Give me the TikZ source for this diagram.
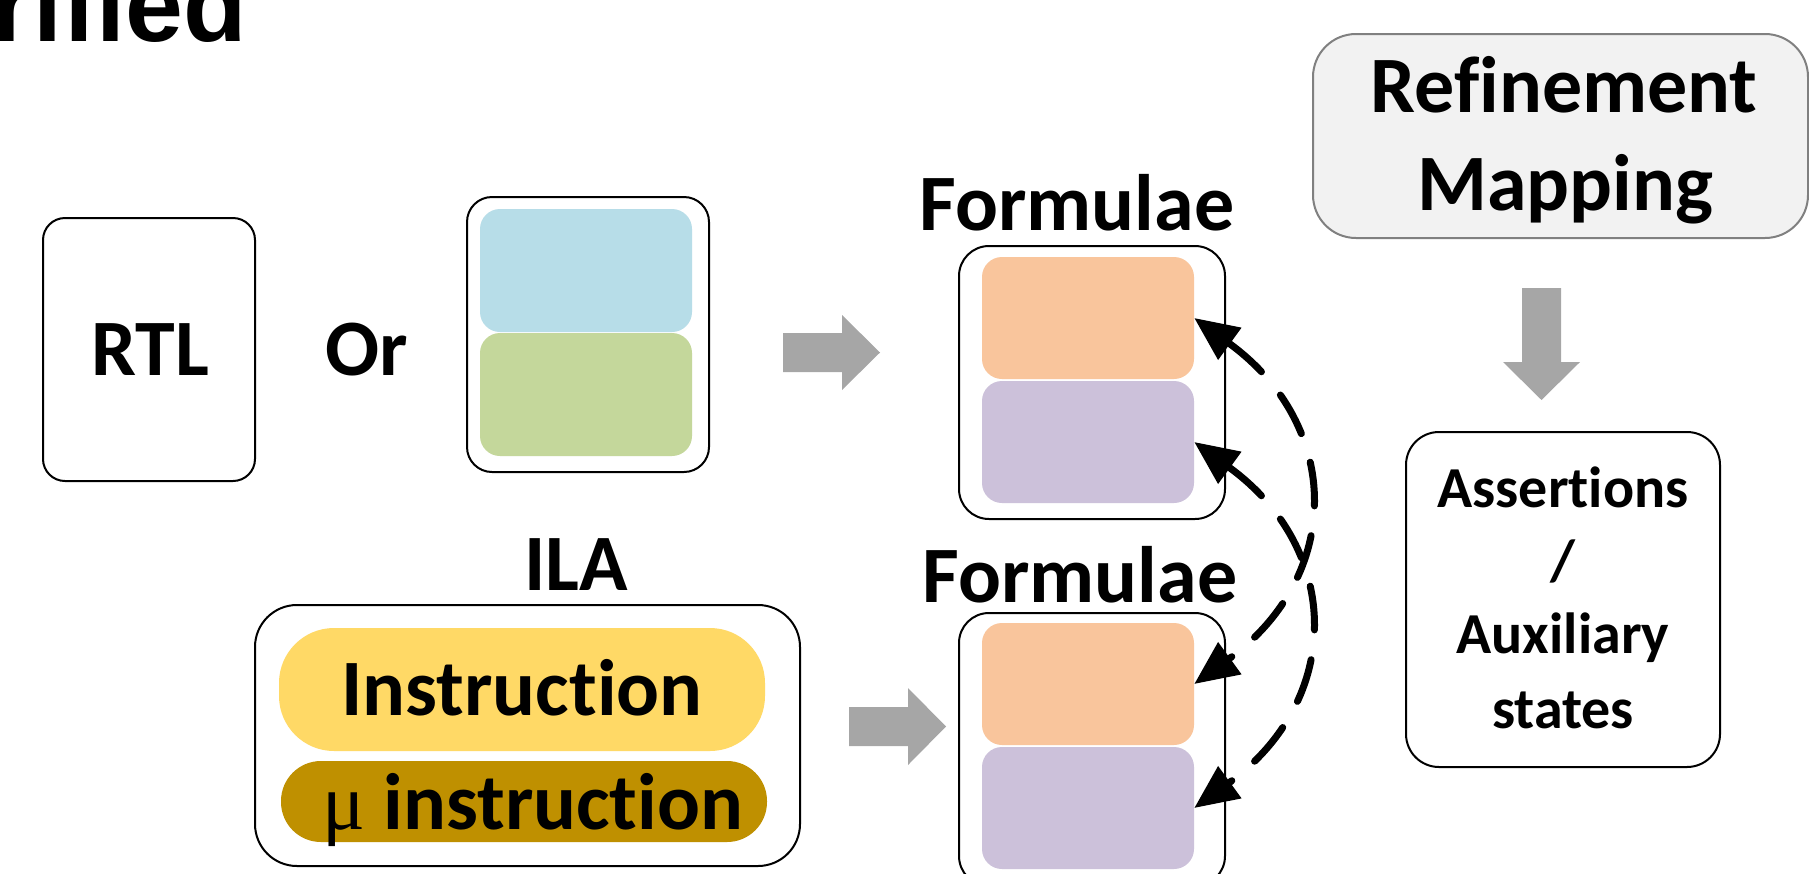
\documentclass[tikz,border=0pt]{standalone}
\usepackage{fontspec}
\setmainfont{Carlito}[RawFeature={-liga;-clig;-dlig}]
\newfontfamily\titlefont{Liberation Sans}
\newfontfamily\mufont{Liberation Serif}
\usetikzlibrary{arrows.meta}
\definecolor{cblue}{HTML}{B7DDE8}
\definecolor{cgreen}{HTML}{C4D79B}
\definecolor{corange}{HTML}{F9C59C}
\definecolor{cpurple}{HTML}{CCC1DA}
\definecolor{cyellow}{HTML}{FFD966}
\definecolor{cgold}{HTML}{BF9000}
\definecolor{cgrayarrow}{HTML}{A6A6A6}
\definecolor{cref}{HTML}{F2F2F2}
\definecolor{crefline}{HTML}{808080}
\tikzset{
  outerbox/.style={draw=black, line width=2pt, fill=white, inner sep=0pt, rounded corners=#1},
  innerbox/.style={inner sep=0pt, rounded corners=#1},
  bigtext/.style={font=\fontsize{80}{96}\selectfont\bfseries, inner sep=0pt, anchor=base},
  smalltext/.style={font=\fontsize{58}{70}\selectfont\bfseries, inner sep=0pt, anchor=base},
  blockarrow/.style={fill=cgrayarrow},
  dasharc/.style={line width=7pt, line cap=round, dash pattern=on 44pt off 30pt,
    {Triangle[length=44pt,width=38pt]}-{Triangle[length=44pt,width=38pt]}}
}
\begin{document}
\begin{tikzpicture}[x=1pt,y=-1pt]
\useasboundingbox (0,0) rectangle (1809,873);
\begin{scope}
\clip (0,0) rectangle (1809,873);
% title fragment
\node[anchor=base west, inner sep=0pt, font=\titlefont\bfseries\fontsize{104}{120}\selectfont] (title) at (-7.5,41) {rified};
% RTL
\node[outerbox=22pt, minimum width=212pt, minimum height=263pt] (rtlbox) at (149,349.5) {};
\node[bigtext] (rtl) at (150.5,375) {RTL};
\node[bigtext] (or) at (366.5,375) {Or};
% Or box
\node[outerbox=25pt, minimum width=242pt, minimum height=275pt] (orbox) at (588,334.5) {};
\node[innerbox=20pt, fill=cblue, minimum width=212pt, minimum height=123pt] (blue) at (586,270.5) {};
\node[innerbox=20pt, fill=cgreen, minimum width=212pt, minimum height=123pt] (green) at (586,394.5) {};
% arrows
\fill[blockarrow] (783,333) -- (842,333) -- (842,315) -- (880,352.5) -- (842,390) -- (842,372) -- (783,372) -- cycle;
\fill[blockarrow] (849,707) -- (908,707) -- (908,688) -- (946,726.5) -- (908,765) -- (908,746) -- (849,746) -- cycle;
\fill[blockarrow] (1522,288) -- (1561,288) -- (1561,362) -- (1580,362) -- (1541.5,400) -- (1503,362) -- (1522,362) -- cycle;
% Formulae 1
\node[bigtext] (form1) at (1077,230) {Formulae};
\node[outerbox=30pt, minimum width=266pt, minimum height=273pt] (fbox1) at (1092,382.5) {};
\node[innerbox=20pt, fill=corange, minimum width=212pt, minimum height=122pt] (o1) at (1088,318) {};
\node[innerbox=20pt, fill=cpurple, minimum width=212pt, minimum height=122pt] (p1) at (1088,442) {};
% Formulae 2
\node[bigtext] (form2) at (1080,602) {Formulae};
\node[outerbox=30pt, minimum width=266pt, minimum height=273pt] (fbox2) at (1092,749.5) {};
\node[innerbox=20pt, fill=corange, minimum width=212pt, minimum height=122pt] (o2) at (1088,684) {};
\node[innerbox=20pt, fill=cpurple, minimum width=212pt, minimum height=122pt] (p2) at (1088,808) {};
% ILA
\node[bigtext] (ila) at (576,590) {ILA};
\node[outerbox=42pt, minimum width=545pt, minimum height=261pt] (ilabox) at (527.5,735.5) {};
\node[innerbox=55pt, fill=cyellow, minimum width=486pt, minimum height=123pt] (instr) at (522,689.5) {};
\node[bigtext] (instrtext) at (522,715) {Instruction};
\node[innerbox=40pt, fill=cgold, minimum width=486pt, minimum height=81pt] (mu) at (524,801.5) {};
\node[bigtext] (mutext) at (533,829) {{\mufont\mdseries μ} instruction};
% Refinement mapping
\node[draw=crefline, line width=2pt, fill=cref, rounded corners=43pt, inner sep=0pt, minimum width=495pt, minimum height=204pt] (refbox) at (1560.5,136) {};
\node[bigtext] (ref1) at (1564,112) {Refinement};
\node[bigtext] (ref2) at (1565,210) {Mapping};
% Assertions
\node[outerbox=33pt, minimum width=314pt, minimum height=335pt] (assbox) at (1563,599.5) {};
\node[smalltext] (a1) at (1563,507) {Assertions};
\node[smalltext] (a2) at (1563,580) {/};
\node[smalltext] (a3) at (1563,653) {Auxiliary};
\node[smalltext] (a4) at (1563,728) {states};
% dashed double arrows
\draw[dasharc] (o1.east) .. controls +(149,108) and +(149,-108) .. (o2.east);
\draw[dasharc] (p1.east) .. controls +(149,108) and +(149,-108) .. (p2.east);
\end{scope}
\end{tikzpicture}
\end{document}
